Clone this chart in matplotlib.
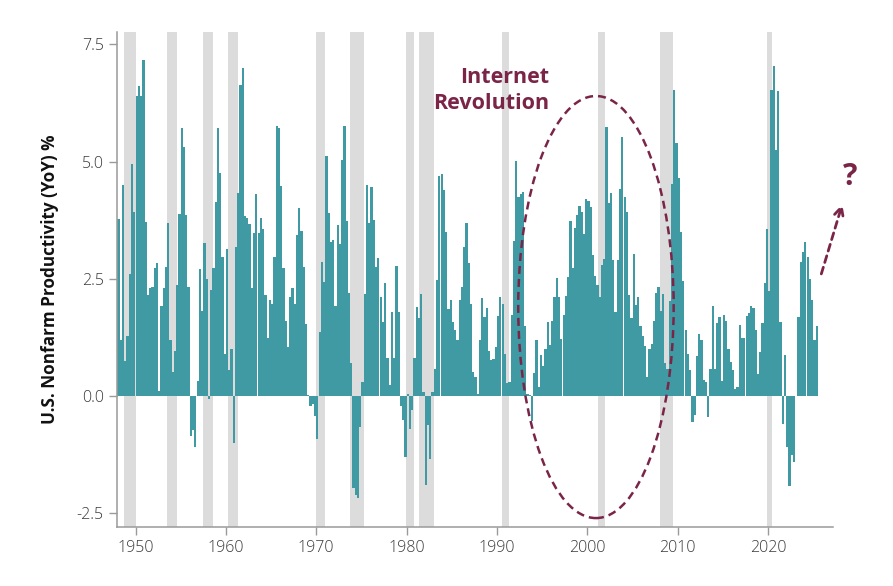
import numpy as np
import matplotlib.pyplot as plt
from matplotlib.patches import Ellipse

plt.rcParams['font.family'] = ['Open Sans', 'DejaVu Sans']

# quarterly YoY % change, 1948Q1 onward
start_year = 1948
productivity = [
    3.78, 1.2, 4.51, 0.74,      # 1948
    1.29, 2.61, 4.95, 3.92,     # 1949
    6.41, 6.62, 6.40, 7.17,     # 1950
    3.72, 2.15, 2.31, 2.32,     # 1951
    2.73, 2.84, 0.12, 1.92,     # 1952
    2.30, 2.75, 3.69, 1.19,     # 1953
    0.51, 0.97, 2.36, 3.89,     # 1954
    5.71, 5.32, 3.87, 2.32,     # 1955
    -0.86, -0.73, -1.09, 0.33,  # 1956
    2.71, 1.81, 3.26, 2.5,      # 1957
    -0.06, 2.27, 2.74, 4.14,    # 1958
    5.72, 4.75, 2.96, 0.9,      # 1959
    3.13, 0.55, 1.0, -1.0,      # 1960
    3.19, 4.33, 6.64, 6.99,     # 1961
    3.84, 3.8, 3.67, 2.31,      # 1962
    3.48, 4.3, 3.47, 3.8,       # 1963
    3.57, 2.15, 1.24, 2.04,     # 1964
    1.97, 2.96, 5.77, 5.72,     # 1965
    4.49, 2.74, 1.61, 1.04,     # 1966
    2.11, 2.31, 1.97, 3.43,     # 1967
    4.01, 3.52, 2.75, 1.53,     # 1968
    0.03, -0.22, -0.16, -0.43,  # 1969
    -0.91, 1.36, 2.86, 2.43,    # 1970
    5.13, 3.91, 3.28, 3.33,     # 1971
    1.93, 3.64, 3.25, 5.04,     # 1972
    5.75, 3.74, 2.19, 0.71,     # 1973
    -1.95, -2.11, -2.17, -0.66, # 1974
    0.3, 2.18, 4.5, 3.7,        # 1975
    4.46, 3.76, 2.76, 2.94,     # 1976
    2.11, 1.58, 2.41, 0.81,     # 1977
    0.24, 1.79, 0.81, 2.77,     # 1978
    1.79, -0.22, -0.5, -1.3,    # 1979
    0.04, -0.7, -0.29, 0.82,    # 1980
    1.9, 1.67, 2.18, 0.09,      # 1981
    -1.9, -0.62, -1.33, 0.09,   # 1982
    0.58, 2.48, 4.7, 4.74,      # 1983
    4.4, 3.51, 1.86, 2.05,      # 1984
    1.58, 1.4, 1.19, 2.04,      # 1985
    2.32, 3.19, 3.69, 2.84,     # 1986
    1.97, 0.51, 0.4, 0.05,      # 1987
    1.2, 2.09, 1.68, 1.88,      # 1988
    0.97, 0.77, 0.8, 1.04,      # 1989
    1.7, 2.11, 1.97, 0.9,       # 1990
    0.28, 0.3, 1.74, 3.3,       # 1991
    5.02, 4.24, 4.3, 4.36,      # 1992
    1.49, 0.04, 0.02, -0.52,    # 1993
    0.5, 1.2, 0.19, 0.87,       # 1994
    0.65, 1.0, 1.58, 1.08,      # 1995
    1.61, 2.11, 2.52, 2.11,     # 1996
    1.22, 1.72, 2.14, 2.55,     # 1997
    3.74, 2.74, 3.58, 3.87,     # 1998
    4.06, 3.92, 3.46, 4.21,     # 1999
    4.17, 4.04, 3.0, 2.57,      # 2000
    2.36, 2.11, 2.79, 2.93,     # 2001
    5.73, 4.12, 4.33, 2.9,      # 2002
    1.8, 2.9, 4.42, 5.53,       # 2003
    4.24, 3.92, 2.16, 1.66,     # 2004
    3.04, 1.95, 2.11, 1.5,      # 2005
    1.29, 1.07, 0.4, 1.0,       # 2006
    1.11, 1.6, 2.2, 2.32,       # 2007
    1.82, 2.17, 0.7, 0.58,      # 2008
    2.02, 4.52, 6.52, 5.4,      # 2009
    4.66, 3.5, 2.45, 1.4,       # 2010
    0.9, 0.55, -0.55, -0.41,    # 2011
    0.85, 1.32, 1.19, 0.34,     # 2012
    0.31, -0.44, 0.57, 1.92,    # 2013
    0.58, 1.55, 1.68, 0.33,     # 2014
    1.74, 1.6, 1.0, 0.72,       # 2015
    0.56, 0.16, 0.2, 1.51,      # 2016
    1.25, 1.24, 1.71, 1.77,     # 2017
    1.92, 1.87, 1.4, 0.48,      # 2018
    0.95, 1.57, 2.41, 3.56,     # 2019
    2.25, 6.53, 7.05, 5.25,     # 2020
    6.5, 1.58, -0.59, 0.88,     # 2021
    -1.09, -1.92, -1.26, -1.4,  # 2022
    0.0, 1.68, 2.86, 3.07,      # 2023
    3.28, 2.96, 2.5, 2.04,      # 2024
    1.19, 1.49,                 # 2025
]

recessions = [
    (1948.74, 1950.05), (1953.46, 1954.55), (1957.5, 1958.6), (1960.27, 1961.35),
    (1970.0, 1971.0), (1973.77, 1975.28), (1979.97, 1980.8), (1981.42, 1983.08),
    (1990.52, 1991.33), (2001.19, 2002.0), (2008.0, 2009.47), (2019.9, 2020.44),
]

year_ticks = [1950, 1960, 1970, 1980, 1990, 2000, 2010, 2020]
value_ticks = [-2.5, 0.0, 2.5, 5.0, 7.5]

teal = '#409aa3'
maroon = '#7a2548'
grey = '#9a9a9a'

quarters = start_year + np.arange(len(productivity)) / 4

fig = plt.figure(figsize=(8.93, 5.86), dpi=100)
ax = fig.add_axes([0.131, 0.1007, 0.802, 0.8443])

for a, b in recessions:
    ax.axvspan(a, b, color='#dcdcdc', lw=0, zorder=0)

ax.bar(quarters, productivity, width=0.245, align='edge', color=teal, linewidth=0, zorder=2)

ax.set_xlim(1947.95, 2027.2)
ax.set_ylim(-2.79, 7.76)

ax.set_xticks(year_ticks)
ax.set_yticks(value_ticks)
ax.set_yticklabels([f'{v:.1f}' for v in value_ticks])

for s in ['top', 'right']:
    ax.spines[s].set_visible(False)
for s in ['left', 'bottom']:
    ax.spines[s].set_color(grey)
    ax.spines[s].set_linewidth(1.1)
ax.tick_params(axis='both', colors=grey, length=6, width=1.0, labelsize=11.5,
               labelcolor='#3a3a3a')
for lab in ax.get_xticklabels() + ax.get_yticklabels():
    lab.set_fontweight('light')

ax.set_ylabel('U.S. Nonfarm Productivity (YoY) %', fontsize=12.3, fontweight='bold',
              color='#111111', labelpad=13)

# internet era highlight
ax.add_patch(Ellipse((2000.95, 1.9), 17.2, 9.0, fill=False, ec=maroon, lw=1.8,
                     ls=(0, (3.2, 2)), zorder=3))
ax.text(1995.75, 6.52, 'Internet\nRevolution', ha='right', va='center',
        multialignment='right', fontsize=15.5, fontweight='bold', color=maroon,
        linespacing=1.3)

ax.annotate('', xy=(2028.3, 4.15), xytext=(2025.8, 2.55),
            arrowprops=dict(arrowstyle='->', lw=2, ls=(0, (2.5, 1.8)), color=maroon,
                            mutation_scale=16),
            annotation_clip=False)
ax.text(2029.1, 4.68, '?', ha='center', va='center', fontsize=22, fontweight='bold',
        color=maroon, clip_on=False)

fig.savefig('out.png', dpi=100)
